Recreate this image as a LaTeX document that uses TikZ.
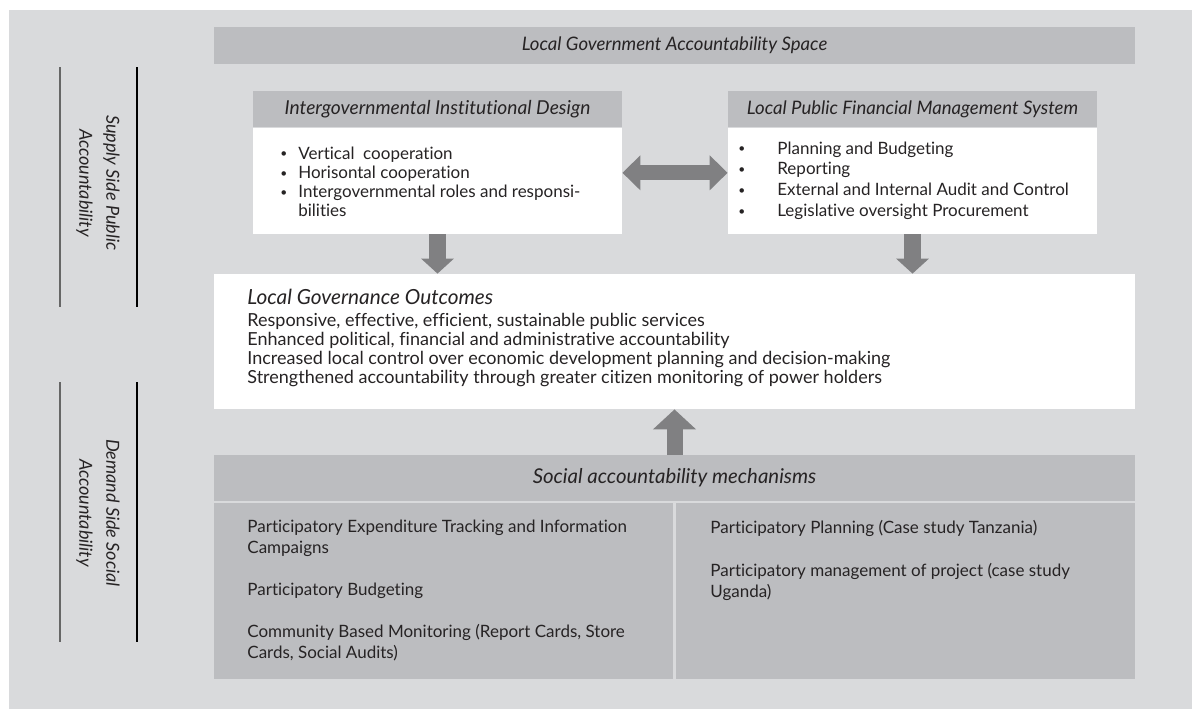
\documentclass[tikz,border=0pt]{standalone}
\usepackage{fontspec}
\setmainfont{Lato}[Ligatures=NoCommon]
\usetikzlibrary{positioning,arrows.meta}
\definecolor{PanelGray}{RGB}{217,218,220}
\definecolor{BarGray}{RGB}{188,189,192}
\definecolor{ArrowGray}{RGB}{128,128,130}
\definecolor{InkGray}{RGB}{38,35,36}
\newcommand{\dotitem}{\raisebox{0.6pt}{\fontsize{6}{6}\selectfont\textbullet}}
\tikzset{
  bar/.style={fill=BarGray,inner sep=0pt,text=InkGray,font=\fontsize{9.3}{10}\selectfont\itshape},
  card/.style={fill=white,inner sep=0pt},
  cell/.style={fill=BarGray,inner sep=0pt},
  txt/.style={inner sep=0pt,anchor=base west,text=InkGray,font=\fontsize{8.5}{9.6}\selectfont},
  side/.style={rotate=-90,align=center,inner sep=0pt,text=InkGray,font=\fontsize{9}{13.5}\selectfont\itshape},
  rail/.style={line width=0.8pt},
  fat/.style={draw=ArrowGray,line width=8.5pt,-{Triangle[width=16pt,length=7.5pt]}},
  twoway/.style={draw=ArrowGray,line width=7.5pt,{Triangle[width=17pt,length=9pt]}-{Triangle[width=17pt,length=9pt]}},
}

\begin{document}
\begin{tikzpicture}[x=0.5pt,y=-0.5pt]
\useasboundingbox (0,0) rectangle (1192,709);
\fill[PanelGray] (9,10) rectangle (1192,709);

\node[bar,minimum width=460.5pt,minimum height=18.5pt] (space) at (674.5,45.5) {Local Government Accountability Space};

\node[bar,font=\fontsize{9.6}{10}\selectfont\itshape,minimum width=184.5pt,minimum height=18pt] (idhead) at (437.5,109) {Intergovernmental Institutional Design};
\node[card,minimum width=184.5pt,minimum height=53pt,below=0pt of idhead] (idbody) {};
\node[bar,minimum width=184.5pt,minimum height=18pt] (fmhead) at (912.5,109) {Local Public Financial Management System};
\node[card,minimum width=184.5pt,minimum height=53pt,below=0pt of fmhead] (fmbody) {};

\node[txt] (idlist) at (280,159) {\begin{tabular}[t]{@{}l@{\hspace{5.5pt}}l@{}}
\dotitem & Vertical~ cooperation\\
\dotitem & Horisontal cooperation\\
\dotitem & Intergovernmental roles and responsi-\\
 & bilities
\end{tabular}};
\node[txt,font=\fontsize{8.5}{10.4}\selectfont] (fmlist) at (738,154) {\begin{tabular}[t]{@{}l@{\hspace{16pt}}l@{}}
\dotitem & Planning and Budgeting\\
\dotitem & Reporting\\
\dotitem & External and Internal Audit and Control\\
\dotitem & Legislative oversight Procurement
\end{tabular}};

\node[card,minimum width=460.5pt,minimum height=67.5pt] (outc) at (674.5,341.5) {};
\node[txt,font=\fontsize{10.4}{12}\selectfont\itshape] (outtitle) at (247,304) {Local Governance Outcomes};
\node[txt,font=\fontsize{9}{9.5}\selectfont] (outlist) at (247,326) {\begin{tabular}[t]{@{}l@{}}
Responsive, effective, efficient, sustainable public services\\
Enhanced political, financial and administrative accountability\\
Increased local control over economic development planning and decision-making\\
Strengthened accountability through greater citizen monitoring of power holders
\end{tabular}};

\node[bar,font=\fontsize{10.2}{11}\selectfont\itshape,minimum width=460.5pt,minimum height=23pt] (sahead) at (674.5,478) {Social accountability mechanisms};
\node[cell,minimum width=229.5pt,minimum height=88pt] (saleft) at (443.5,591) {};
\node[cell,minimum width=229.5pt,minimum height=88pt] (saright) at (905.5,591) {};
\node[txt,font=\fontsize{8.5}{10.5}\selectfont] (salist) at (247,532) {\begin{tabular}[t]{@{}l@{}}
Participatory Expenditure Tracking and Information\\
Campaigns\\
\\
Participatory Budgeting\\
\\
Community Based Monitoring (Report Cards, Store\\
Cards, Social Audits)
\end{tabular}};
\node[txt,font=\fontsize{8.5}{10.75}\selectfont] (calist) at (710,533) {\begin{tabular}[t]{@{}l@{}}
Participatory Planning (Case study Tanzania)\\
\\
Participatory management of project (case study\\
Uganda)
\end{tabular}};

\draw[fat] (idbody.south) -- (idbody.south |- outc.north);
\draw[fat] (fmbody.south) -- (fmbody.south |- outc.north);
\draw[twoway] ([yshift=4pt]idbody.east) -- ([yshift=4pt]fmbody.west);
\draw[fat,line width=8pt,-{Triangle[width=21pt,length=10pt]}] (sahead.north) -- (outc.south);

\node[side] (supply) at (98,183) {Supply Side Public\\Accountability};
\node[side] (demand) at (98,513) {Demand Side Social\\Accountability};
\draw[rail,black!60] (60,67) -- (60,307);
\draw[rail] (137,67) -- (137,307);
\draw[rail,black!60] (60,382) -- (60,642);
\draw[rail] (137,382) -- (137,642);
\end{tikzpicture}
\end{document}
